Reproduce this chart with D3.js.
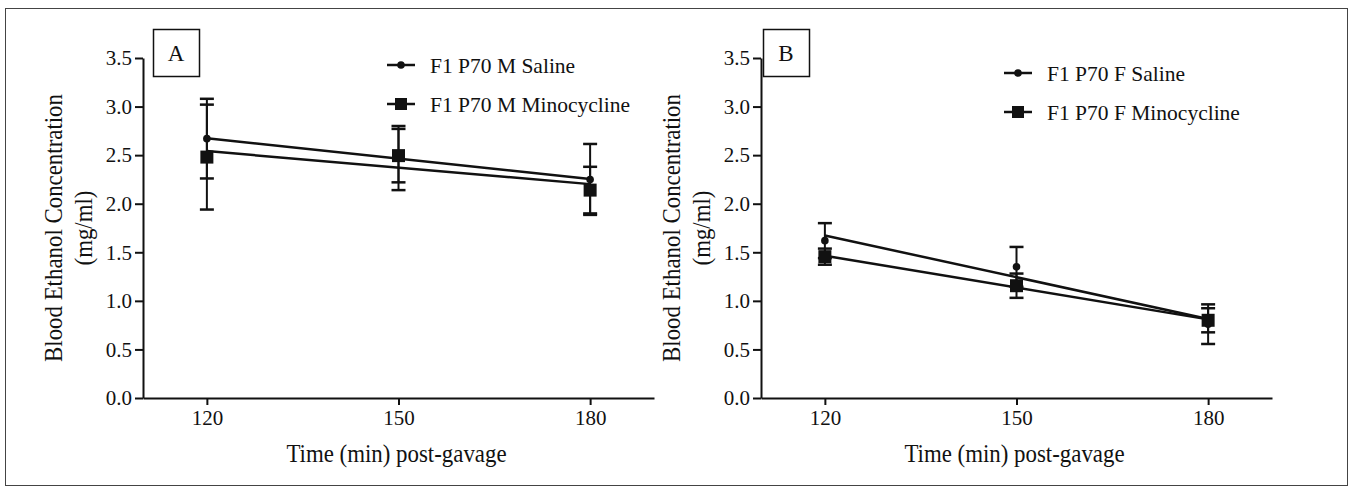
<!DOCTYPE html>
<html>
<head>
<meta charset="utf-8">
<script src="https://cdn.jsdelivr.net/npm/d3@7"></script>
<style>
  body { margin: 0; background: #fff; }
  svg text { font-family: "Liberation Serif", "DejaVu Serif", "Times New Roman", serif; fill: #111; }
  .axis path, .axis line { stroke: #111; stroke-width: 2; }
</style>
</head>
<body>
<div id="chart"></div>
<script>
const times = [120, 150, 180];
const xTicks = [120, 150, 180];
const yTicks = [0, 0.5, 1.0, 1.5, 2.0, 2.5, 3.0, 3.5];

// panel A (males)
const maleSalineMean = [2.67, 2.47, 2.25];
const maleSalineSem  = [0.41, 0.33, 0.365];
const maleMinoMean   = [2.48, 2.495, 2.14];
const maleMinoSem    = [0.54, 0.275, 0.24];

// panel B (females)
const femaleSalineMean = [1.62, 1.35, 0.76];
const femaleSalineSem  = [0.18, 0.205, 0.204];
const femaleMinoMean   = [1.455, 1.156, 0.80];
const femaleMinoSem    = [0.083, 0.125, 0.124];

const width = 1355, height = 491;
const serif = '"Liberation Serif", "DejaVu Serif", "Times New Roman", serif';

const svg = d3.select("#chart").append("svg")
    .attr("width", width)
    .attr("height", height)
    .attr("font-family", serif);

svg.append("rect")
    .attr("x", 5.5).attr("y", 8.5)
    .attr("width", 1342).attr("height", 477)
    .attr("fill", "none")
    .attr("stroke", "#444")
    .attr("stroke-width", 1);

// least squares fit through the means, returns value at t
function fitLine(xs, ys) {
  let mx = d3.mean(xs), my = d3.mean(ys);
  let num = d3.sum(xs, (x, i) => (x - mx) * (ys[i] - my));
  let den = d3.sum(xs, x => (x - mx) * (x - mx));
  let b = num / den;
  return t => my + b * (t - mx);
}

function drawPanel(opt) {
  let g = svg.append("g");

  let x = d3.scaleLinear().domain([110, 190]).range([opt.left, opt.left + 511]);
  let y = d3.scaleLinear().domain([0, 3.5]).range([398, 58]);

  let xa = g.append("g")
    .attr("class", "axis")
    .attr("transform", `translate(0,${y(0)})`)
    .call(d3.axisBottom(x).tickValues(xTicks).tickSize(7).tickSizeOuter(0).tickPadding(5));

  let ya = g.append("g")
    .attr("class", "axis")
    .attr("transform", `translate(${opt.left},0)`)
    .call(d3.axisLeft(y).tickValues(yTicks).tickFormat(d3.format(".1f")).tickSize(8).tickSizeOuter(0).tickPadding(3));

  [xa, ya].forEach(a => a.attr("font-family", serif).attr("font-size", 21)
    .selectAll("text").attr("fill", "#111"));

  // axis titles
  let midX = opt.left + 511 / 2;
  g.append("text")
    .attr("transform", `translate(${midX - 2},462) scale(0.88,1)`)
    .attr("text-anchor", "middle")
    .style("font-size", "26px")
    .text("Time (min) post-gavage");

  g.append("text")
    .attr("transform", `translate(${opt.left - 90},228) rotate(-90) scale(0.88,1)`)
    .attr("text-anchor", "middle")
    .attr("dy", "0.35em")
    .style("font-size", "26px")
    .text("Blood Ethanol Concentration");
  g.append("text")
    .attr("transform", `translate(${opt.left - 60},228) rotate(-90) scale(0.88,1)`)
    .attr("text-anchor", "middle")
    .attr("dy", "0.35em")
    .style("font-size", "26px")
    .text("(mg/ml)");

  // panel letter
  g.append("rect")
    .attr("x", opt.boxX + 0.5).attr("y", 29.5)
    .attr("width", 46).attr("height", 47)
    .attr("fill", "#fff").attr("stroke", "#111").attr("stroke-width", 1.5);
  g.append("text")
    .attr("x", opt.boxX + 23).attr("y", 53)
    .attr("dy", "0.35em")
    .attr("text-anchor", "middle")
    .style("font-size", "23px")
    .text(opt.letter);

  opt.series.forEach(s => {
    let f = fitLine(times, s.mean);
    let pts = times.map((t, i) => ({t: t, m: s.mean[i], e: s.sem[i]}));
    let sg = g.append("g");

    // error bars
    sg.selectAll("line.bar").data(pts).enter().append("line")
      .attr("x1", d => x(d.t)).attr("x2", d => x(d.t))
      .attr("y1", d => y(d.m - d.e)).attr("y2", d => y(d.m + d.e))
      .attr("stroke", "#111").attr("stroke-width", 2);
    sg.selectAll("line.capTop").data(pts).enter().append("line")
      .attr("x1", d => x(d.t) - 7).attr("x2", d => x(d.t) + 7)
      .attr("y1", d => y(d.m + d.e)).attr("y2", d => y(d.m + d.e))
      .attr("stroke", "#111").attr("stroke-width", 2.5);
    sg.selectAll("line.capBot").data(pts).enter().append("line")
      .attr("x1", d => x(d.t) - 7).attr("x2", d => x(d.t) + 7)
      .attr("y1", d => y(d.m - d.e)).attr("y2", d => y(d.m - d.e))
      .attr("stroke", "#111").attr("stroke-width", 2.5);

    // regression line
    sg.append("line")
      .attr("x1", x(times[0])).attr("y1", y(f(times[0])))
      .attr("x2", x(times[times.length - 1])).attr("y2", y(f(times[times.length - 1])))
      .attr("stroke", "#111").attr("stroke-width", 2.5);

    if (s.shape == "circle") {
      sg.selectAll("circle").data(pts).enter().append("circle")
        .attr("cx", d => x(d.t)).attr("cy", d => y(d.m)).attr("r", 3.8)
        .attr("fill", "#111");
    } else {
      sg.selectAll("rect").data(pts).enter().append("rect")
        .attr("x", d => x(d.t) - 6.5).attr("y", d => y(d.m) - 6.5)
        .attr("width", 13).attr("height", 13)
        .attr("fill", "#111");
    }
  });

  // legend
  let lg = g.append("g").attr("transform", `translate(${opt.legX},${opt.legY})`);
  opt.series.forEach((s, i) => {
    let row = lg.append("g").attr("transform", `translate(0,${i * 39})`);
    row.append("line")
      .attr("x1", 0).attr("x2", 28).attr("y1", 0).attr("y2", 0)
      .attr("stroke", "#111").attr("stroke-width", 2.5);
    if (s.shape == "circle") {
      row.append("circle").attr("cx", 14).attr("cy", 0).attr("r", 3.8).attr("fill", "#111");
    } else {
      row.append("rect").attr("x", 8).attr("y", -6).attr("width", 12).attr("height", 12).attr("fill", "#111");
    }
    row.append("text")
      .attr("x", 43).attr("y", 0).attr("dy", "0.35em")
      .style("font-size", "21.5px")
      .text(s.label);
  });
}

drawPanel({
  letter: "A", left: 143, boxX: 153, legX: 387, legY: 65,
  series: [
    {label: "F1 P70 M Saline", shape: "circle", mean: maleSalineMean, sem: maleSalineSem},
    {label: "F1 P70 M Minocycline", shape: "square", mean: maleMinoMean, sem: maleMinoSem}
  ]
});

drawPanel({
  letter: "B", left: 761, boxX: 763, legX: 1004, legY: 73,
  series: [
    {label: "F1 P70 F Saline", shape: "circle", mean: femaleSalineMean, sem: femaleSalineSem},
    {label: "F1 P70 F Minocycline", shape: "square", mean: femaleMinoMean, sem: femaleMinoSem}
  ]
});
</script>
</body>
</html>
